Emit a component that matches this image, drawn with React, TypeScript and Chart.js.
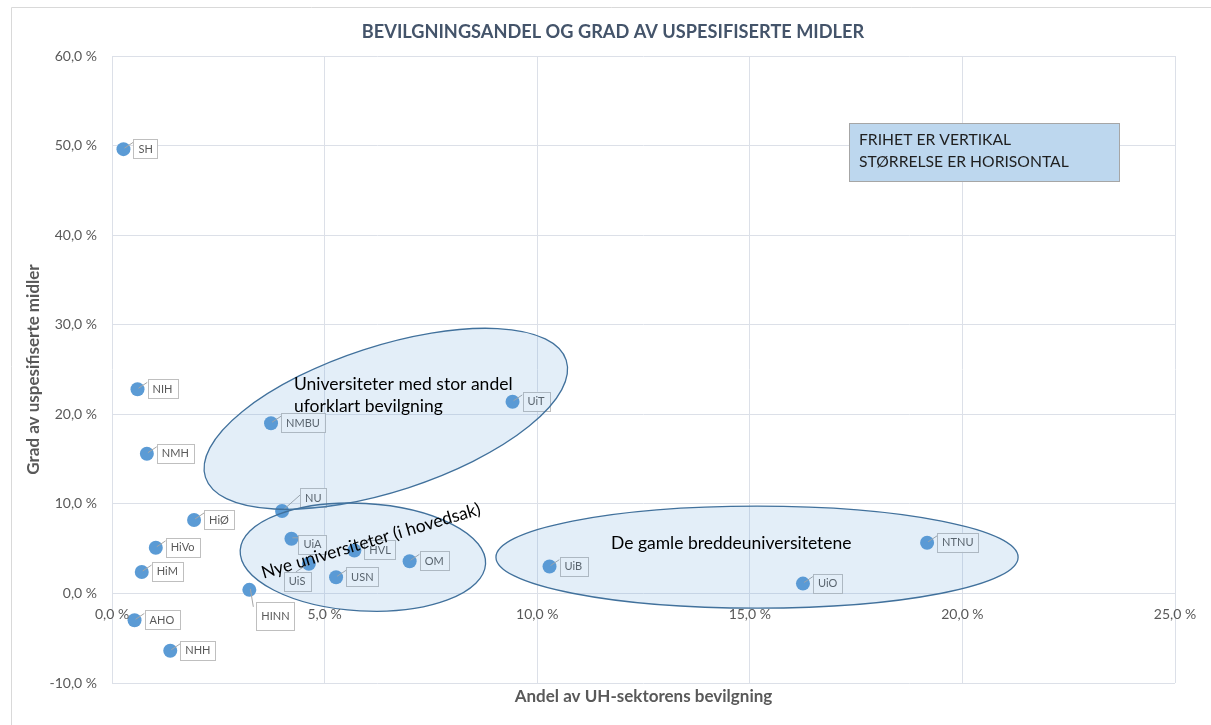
import React, { useEffect, useRef } from "react";
import { Chart, registerables } from "chart.js";

Chart.register(...registerables);

// ---- Data ----
const institutions = ["SH", "NIH", "NMH", "NMBU", "UiT", "NU", "HiØ", "UiA", "HiVo", "HVL", "OM", "NTNU", "HiM", "UiS", "USN", "UiB", "UiO", "HINN", "AHO", "NHH"];
const fundingShare = [0.27, 0.6, 0.82, 3.74, 9.42, 4.0, 1.93, 4.22, 1.03, 5.7, 7.0, 19.17, 0.7, 4.63, 5.27, 10.29, 16.25, 3.23, 0.53, 1.37];
const unspecifiedShare = [49.6, 22.8, 15.6, 19.0, 21.4, 9.2, 8.2, 6.1, 5.1, 4.8, 3.6, 5.65, 2.4, 3.3, 1.8, 3.0, 1.1, 0.4, -3.0, -6.4];
const xTickValues = [0, 5, 10, 15, 20, 25];
const yTickValues = [-10, 0, 10, 20, 30, 40, 50, 60];

const chartTitle = "BEVILGNINGSANDEL OG GRAD AV USPESIFISERTE MIDLER";
const xAxisTitle = "Andel av UH-sektorens bevilgning";
const yAxisTitle = "Grad av uspesifiserte midler";
const infoLines = ["FRIHET ER VERTIKAL", "STØRRELSE ER HORISONTAL"];

// group ellipses (in data units: centre x/y, semi-axis along x in x-units, along y in y-units)
const groupCentreX = [6.44, 5.9, 15.17];
const groupCentreY = [19.5, 4.05, 4.05];
const groupRadiusX = [4.46, 2.89, 6.14];
const groupRadiusY = [8.1, 6.0, 5.7];
const groupAngle = [-18, 3.2, 0];

// label placement overrides (pixel offsets of box relative to point)
const labelOverrides: Record<string, { dx: number; dy: number; h?: number }> = {
  NU: { dx: 18, dy: -23 },
  UiA: { dx: 7, dy: -4 },
  UiS: { dx: -25, dy: 8 },
  HINN: { dx: 7, dy: 12, h: 28 },
};

const fmt = (v: number) => v.toFixed(1).replace(".", ",") + " %";
const FONT = "Lato, 'Open Sans', sans-serif";
const GRID = "#DCE0E8";

const overlayPlugin = {
  id: "overlay",
  afterDatasetsDraw(chart: any) {
    const ctx: CanvasRenderingContext2D = chart.ctx;
    const xs = chart.scales.x;
    const ys = chart.scales.y;
    const meta = chart.getDatasetMeta(0);
    ctx.save();

    // leader lines and label boxes
    ctx.font = `11px ${FONT}`;
    institutions.forEach((name, i) => {
      const el = meta.data[i];
      const px = el.x;
      const py = el.y;
      const o = labelOverrides[name] || { dx: 10, dy: -10 };
      const h = o.h || 19;
      const w = ctx.measureText(name).width + 10;
      const bx = px + o.dx;
      const by = py + o.dy;
      let lx = bx;
      let ly = by + 3;
      if (name === "UiS") { lx = bx + 12; ly = by; }
      if (name === "NU") { lx = bx; ly = by + 7; }
      if (name === "HINN") { lx = bx - 3; ly = by + 5; }
      ctx.strokeStyle = "#A6A6A6";
      ctx.lineWidth = 1;
      ctx.beginPath();
      ctx.moveTo(px + 1, py - 1);
      ctx.lineTo(lx, ly);
      ctx.stroke();
      ctx.fillStyle = "#FFFFFF";
      ctx.fillRect(bx, by, w, h);
      ctx.strokeStyle = "#BFBFBF";
      ctx.strokeRect(Math.round(bx) + 0.5, Math.round(by) + 0.5, Math.round(w), Math.round(h));
      ctx.fillStyle = "#595959";
      ctx.textAlign = "center";
      ctx.textBaseline = "middle";
      ctx.fillText(name, bx + w / 2, by + h / 2 + 0.5);
    });

    // ellipses
    groupCentreX.forEach((cx, i) => {
      const cpx = xs.getPixelForValue(cx);
      const cpy = ys.getPixelForValue(groupCentreY[i]);
      const rx = xs.getPixelForValue(cx + groupRadiusX[i]) - cpx;
      const ry = ys.getPixelForValue(groupCentreY[i]) - ys.getPixelForValue(groupCentreY[i] + groupRadiusY[i]);
      ctx.beginPath();
      ctx.ellipse(cpx, cpy, rx, ry, (groupAngle[i] * Math.PI) / 180, 0, Math.PI * 2);
      ctx.fillStyle = "rgba(91,155,213,0.17)";
      ctx.fill();
      ctx.strokeStyle = "#41719C";
      ctx.lineWidth = 1.3;
      ctx.stroke();
    });

    // group texts
    ctx.fillStyle = "#000000";
    ctx.font = `17.5px ${FONT}`;
    ctx.textAlign = "left";
    ctx.textBaseline = "middle";
    ctx.fillText("Universiteter med stor andel", 294, 384);
    ctx.fillText("uforklart bevilgning", 294, 406);
    ctx.fillText("De gamle breddeuniversitetene", 611, 543);
    ctx.save();
    ctx.translate(371, 541);
    ctx.rotate((-16.5 * Math.PI) / 180);
    ctx.textAlign = "center";
    ctx.fillText("Nye universiteter (i hovedsak)", 0, 0);
    ctx.restore();

    // info box
    ctx.fillStyle = "#BDD7EE";
    ctx.fillRect(849, 123, 271, 59);
    ctx.strokeStyle = "#A6A6A6";
    ctx.lineWidth = 1;
    ctx.strokeRect(849.5, 123.5, 270, 58);
    ctx.fillStyle = "#1F1F1F";
    ctx.font = `15.7px ${FONT}`;
    ctx.textAlign = "left";
    ctx.fillText(infoLines[0], 859, 140);
    ctx.fillText(infoLines[1], 859, 162);

    ctx.restore();
  },
  afterDraw(chart: any) {
    const ctx: CanvasRenderingContext2D = chart.ctx;
    const xs = chart.scales.x;
    const ys = chart.scales.y;
    const area = chart.chartArea;
    ctx.save();
    ctx.strokeStyle = "#D9D9D9";
    ctx.lineWidth = 1;
    ctx.beginPath();
    ctx.moveTo(11.5, 725);
    ctx.lineTo(11.5, 7.5);
    ctx.lineTo(1211, 7.5);
    ctx.stroke();

    ctx.fillStyle = "#44546A";
    ctx.font = `bold 18.2px ${FONT}`;
    ctx.textAlign = "center";
    ctx.textBaseline = "middle";
    ctx.fillText(chartTitle, 613, 32);

    ctx.fillStyle = "#595959";
    ctx.font = `14px ${FONT}`;
    const y0 = ys.getPixelForValue(0);
    xTickValues.forEach((v) => {
      ctx.fillText(fmt(v), xs.getPixelForValue(v), y0 + 21);
    });

    ctx.font = `bold 17px ${FONT}`;
    ctx.fillText(xAxisTitle, (area.left + area.right) / 2, 697);
    ctx.save();
    ctx.translate(34, (area.top + area.bottom) / 2);
    ctx.rotate(-Math.PI / 2);
    ctx.fillText(yAxisTitle, 0, 0);
    ctx.restore();
    ctx.restore();
  },
};

export default function App() {
  const ref = useRef<HTMLCanvasElement | null>(null);
  useEffect(() => {
    if (!ref.current) return;
    const chart = new Chart(ref.current, {
      type: "scatter",
      data: {
        datasets: [
          {
            label: "Institusjoner",
            data: institutions.map((_, i) => ({ x: fundingShare[i], y: unspecifiedShare[i] })),
            backgroundColor: "#5B9BD5",
            borderColor: "#5B9BD5",
            borderWidth: 0,
            pointRadius: 7,
            pointHoverRadius: 7,
          },
        ],
      },
      options: {
        animation: false,
        responsive: false,
        maintainAspectRatio: false,
        layout: { padding: { left: 0, top: 56, right: 36, bottom: 0 } },
        plugins: {
          legend: { display: false },
          tooltip: { enabled: false },
          title: { display: false },
        },
        scales: {
          x: {
            type: "linear",
            min: 0,
            max: 25,
            afterBuildTicks: (s: any) => {
              s.ticks = xTickValues.map((v) => ({ value: v }));
            },
            ticks: { display: false },
            grid: { color: GRID, drawTicks: false, lineWidth: 1 },
            border: { display: false },
            afterFit: (s: any) => {
              s.height = 42;
            },
          },
          y: {
            type: "linear",
            min: -10,
            max: 60,
            afterBuildTicks: (s: any) => {
              s.ticks = yTickValues.map((v) => ({ value: v }));
            },
            ticks: {
              padding: 15,
              color: "#595959",
              font: { family: FONT, size: 14 },
              callback: (v: any) => fmt(Number(v)),
            },
            grid: { color: GRID, drawTicks: false, lineWidth: 1 },
            border: { display: false },
            afterFit: (s: any) => {
              s.width = 112;
            },
          },
        },
      },
      plugins: [overlayPlugin],
    } as any);
    return () => chart.destroy();
  }, []);
  return (
    <div style={{ position: "fixed", left: 0, top: 0, width: 1211, height: 725, background: "#fff" }}>
      <canvas ref={ref} width={1211} height={725} style={{ display: "block" }} />
    </div>
  );
}
